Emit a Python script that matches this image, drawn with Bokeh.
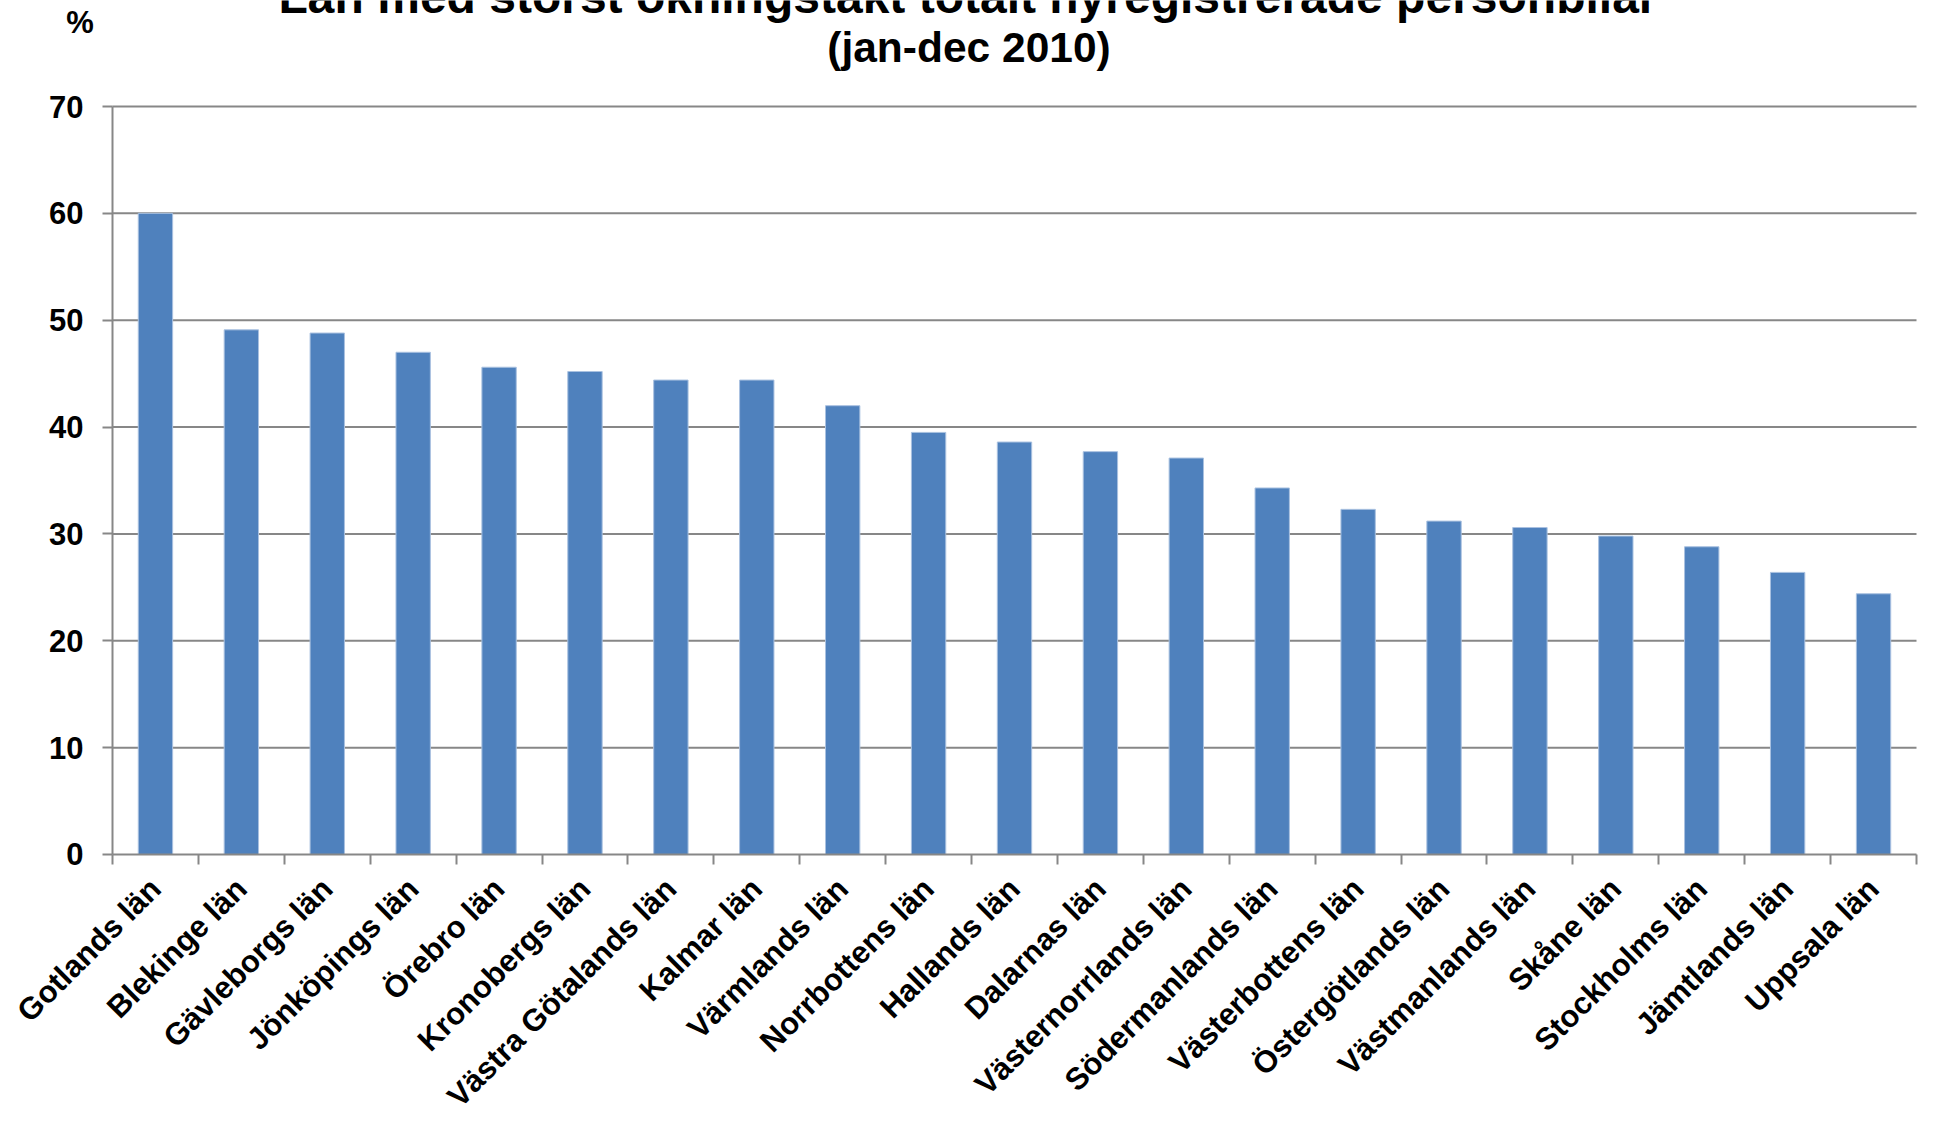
from bokeh.plotting import figure
from bokeh.models import Range1d, FixedTicker, Label
from bokeh.embed import file_html
from bokeh.resources import INLINE
import math

title_line1 = "Län med störst ökningstakt totalt nyregistrerade personbilar"
title_line2 = "(jan-dec 2010)"
unit_label = "%"

categories = [
    "Gotlands län", "Blekinge län", "Gävleborgs län", "Jönköpings län", "Örebro län",
    "Kronobergs län", "Västra Götalands län", "Kalmar län", "Värmlands län",
    "Norrbottens län", "Hallands län", "Dalarnas län", "Västernorrlands län",
    "Södermanlands län", "Västerbottens län", "Östergötlands län", "Västmanlands län",
    "Skåne län", "Stockholms län", "Jämtlands län", "Uppsala län",
]
values = [60.0, 49.1, 48.8, 47.0, 45.6, 45.2, 44.4, 44.4, 42.0, 39.5, 38.6,
          37.7, 37.1, 34.3, 32.3, 31.2, 30.6, 29.8, 28.8, 26.4, 24.4]
y_ticks = [0, 10, 20, 30, 40, 50, 60, 70]
y_max = 70

FONT = "Liberation Sans"
GRAY = "#878787"
n = len(categories)
centers = [i + 0.5 for i in range(n)]
boundaries = list(range(n + 1))

# The frame fills the whole canvas; the chart's axes sit at fixed locations inside it.
p = figure(width=1926, height=1111, output_backend="svg", toolbar_location=None,
           x_range=Range1d(-1.3038, n + 0.1164), y_range=Range1d(-24.051, y_max + 9.92),
           min_border_left=0, min_border_right=0, min_border_top=0, min_border_bottom=0)
p.outline_line_color = None
p.background_fill_color = "white"
p.border_fill_color = "white"
p.xgrid.visible = False
p.ygrid.visible = False

# horizontal gridlines across the category span
grid_vals = [t for t in y_ticks if t > 0]
p.segment(x0=[0] * len(grid_vals), x1=[n] * len(grid_vals), y0=grid_vals, y1=grid_vals,
          line_color=GRAY, line_width=2)

p.vbar(x=centers, top=values, width=0.4, bottom=0,
       fill_color="#4F81BD", line_color="#A9C1E0", line_width=1)

# y axis
ya = p.yaxis[0]
ya.fixed_location = 0
ya.bounds = (0, y_max)
ya.ticker = FixedTicker(ticks=y_ticks)
ya.axis_line_color = GRAY
ya.axis_line_width = 2
ya.major_tick_line_color = GRAY
ya.major_tick_line_width = 2
ya.major_tick_in = 0
ya.major_tick_out = 10
ya.minor_tick_line_color = None
ya.major_label_standoff = 19
ya.major_label_text_font = FONT
ya.major_label_text_font_style = "bold"
ya.major_label_text_font_size = "31px"
ya.major_label_text_color = "black"

# x axis
xa = p.xaxis[0]
xa.fixed_location = 0
xa.bounds = (0, n)
xa.ticker = FixedTicker(ticks=centers, minor_ticks=boundaries)
xa.major_label_overrides = {c: name for c, name in zip(centers, categories)}
xa.axis_line_color = GRAY
xa.axis_line_width = 2
xa.major_tick_line_color = None
xa.minor_tick_line_color = GRAY
xa.minor_tick_line_width = 2
xa.minor_tick_in = 0
xa.minor_tick_out = 10
xa.major_label_orientation = math.pi / 4
xa.major_label_standoff = 19
xa.major_label_text_font = FONT
xa.major_label_text_font_style = "bold"
xa.major_label_text_font_size = "31px"
xa.major_label_text_color = "black"

# titles and unit label
p.add_layout(Label(x=9.959, y=80.29, text=title_line1, text_align="center", text_baseline="middle",
                   text_font=FONT, text_font_style="bold", text_font_size="48px", text_color="black"))
p.add_layout(Label(x=9.97, y=75.53, text=title_line2, text_align="center", text_baseline="middle",
                   text_font=FONT, text_font_style="bold", text_font_size="42.5px", text_color="black"))
p.add_layout(Label(x=-0.378, y=77.86, text=unit_label, text_align="center", text_baseline="middle",
                   text_font=FONT, text_font_style="bold", text_font_size="31px", text_color="black"))

open("out.html", "w").write(file_html(p, INLINE))
